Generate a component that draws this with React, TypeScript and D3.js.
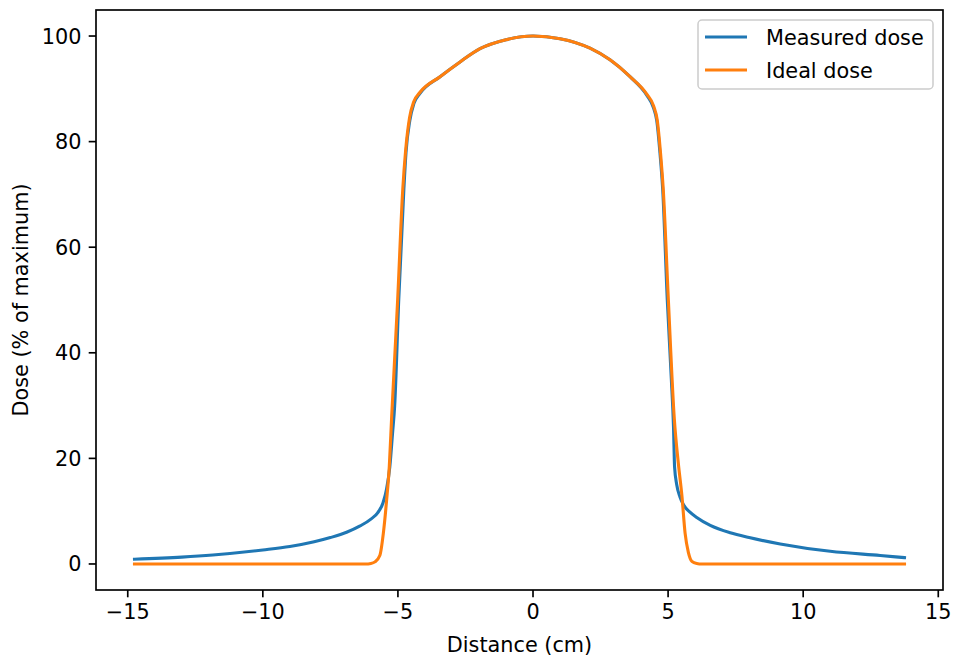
import React, { useEffect, useRef } from 'react';
import * as d3 from 'd3';

// measured profile
const measuredX = [
  -14.75, -13, -11.85, -10, -9, -8.1, -7.5, -6.9, -6.4, -6.0, -5.75, -5.55, -5.42, -5.3, -5.2,
  -5.12, -4.97, -4.78, -4.7, -4.56, -4.41, -4.19, -3.44, -2.7, -1.96, -1.0, 0, 1.0, 2.11, 2.85,
  3.59, 4.21, 4.46, 4.58, 4.7, 4.8, 4.97, 5.12, 5.2, 5.24, 5.32, 5.44, 5.57, 5.81, 6.06, 6.56,
  7.3, 8.0, 9.15, 11.0, 12.85, 13.75,
];
const measuredDose = [
  0.9, 1.3, 1.7, 2.65, 3.3, 4.2, 5.0, 6.0, 7.2, 8.5, 9.7, 11.6, 14.2, 18.4, 24.7,
  30, 50, 71, 78, 84, 87.2, 89.1, 92.3, 95.1, 97.6, 99.3, 100, 99.5, 97.7, 95.5,
  92.3, 88.8, 86.4, 84, 77.8, 71, 50, 35, 26, 18.4, 15, 12.7, 11.2, 9.8, 8.8, 7.3,
  5.9, 5.0, 3.8, 2.4, 1.6, 1.2,
];

// ideal profile
const idealX = [
  -14.75, -6.2, -6.0, -5.85, -5.67, -5.54, -5.42, -5.32, -5.23, -5.01, -4.82, -4.72, -4.57,
  -4.41, -4.19, -3.44, -2.7, -1.96, -1, 0, 1, 2.11, 2.85, 3.59, 4.21, 4.46, 4.6, 4.72, 4.82,
  5.01, 5.23, 5.38, 5.51, 5.63, 5.75, 5.88, 6.06, 6.25, 13.75,
];
const idealDose = [
  0, 0, 0.1, 0.4, 1.6, 5.8, 12, 18.4, 28, 50, 71, 78, 84.5,
  87.6, 89.3, 92.3, 95.1, 97.6, 99.3, 100, 99.5, 97.7, 95.5, 92.3, 89, 86.8, 84, 77.8, 71,
  50, 27.5, 19, 13, 5.8, 2.2, 0.5, 0.1, 0, 0,
];

const xTicks = [-15, -10, -5, 0, 5, 10, 15];
const yTicks = [0, 20, 40, 60, 80, 100];

const seriesNames = ['Measured dose', 'Ideal dose'];
const seriesColors = ['#1f77b4', '#ff7f0e'];

export default function App() {
  const chartRef = useRef<SVGSVGElement | null>(null);

  useEffect(() => {
    document.body.style.margin = '0';
    if (!chartRef.current) return;
    const root = d3.select(chartRef.current);
    root.selectAll('*').remove();

    const W = 953, H = 658;
    const margin = { top: 10, right: 10, bottom: 68, left: 96 };
    const width = W - margin.left - margin.right;
    const height = H - margin.top - margin.bottom;
    const font = 'DejaVu Sans, sans-serif';
    const fs = 20.8;

    const svg = root.append('g').attr('transform', `translate(${margin.left},${margin.top})`);

    // 5% padding like matplotlib
    const xPad = (13.75 + 14.75) * 0.05;
    const x = d3.scaleLinear().domain([-14.75 - xPad, 13.75 + xPad]).range([0, width]);
    const y = d3.scaleLinear().domain([-4.93, 104.93]).range([height, 0]);

    const line = d3.line<[number, number]>()
      .curve(d3.curveMonotoneX)
      .x(d => x(d[0]))
      .y(d => y(d[1]));

    const series = [
      d3.zip(measuredX, measuredDose) as [number, number][],
      d3.zip(idealX, idealDose) as [number, number][],
    ];

    series.forEach((pts, i) => {
      svg.append('path')
        .datum(pts)
        .attr('fill', 'none')
        .attr('stroke', seriesColors[i])
        .attr('stroke-width', 3.1)
        .attr('stroke-linejoin', 'round')
        .attr('stroke-linecap', 'square')
        .attr('d', line);
    });

    // frame
    svg.append('rect')
      .attr('width', width).attr('height', height)
      .attr('fill', 'none').attr('stroke', '#000').attr('stroke-width', 1.67);

    // x ticks
    const xt = svg.append('g').attr('transform', `translate(0,${height})`);
    xTicks.forEach(t => {
      xt.append('line').attr('x1', x(t)).attr('x2', x(t)).attr('y1', 0).attr('y2', 7.3)
        .attr('stroke', '#000').attr('stroke-width', 1.67);
      xt.append('text').attr('x', x(t)).attr('y', 29)
        .attr('text-anchor', 'middle').style('font-family', font).style('font-size', `${fs}px`)
        .text(t < 0 ? `\u2212${-t}` : `${t}`);
    });

    // y ticks
    yTicks.forEach(t => {
      svg.append('line').attr('x1', -7.3).attr('x2', 0).attr('y1', y(t)).attr('y2', y(t))
        .attr('stroke', '#000').attr('stroke-width', 1.67);
      svg.append('text').attr('x', -14.6).attr('y', y(t) + 7.5)
        .attr('text-anchor', 'end').style('font-family', font).style('font-size', `${fs}px`)
        .text(t);
    });

    // axis labels
    svg.append('text')
      .attr('x', width / 2).attr('y', height + 62)
      .attr('text-anchor', 'middle').style('font-family', font).style('font-size', `${fs}px`)
      .text('Distance (cm)');
    svg.append('text')
      .attr('transform', `translate(${28 - margin.left},${height / 2}) rotate(-90)`)
      .attr('text-anchor', 'middle').style('font-family', font).style('font-size', `${fs}px`)
      .text('Dose (% of maximum)');

    // legend
    const lg = svg.append('g').attr('transform', `translate(${698 - margin.left},${20 - margin.top})`);
    lg.append('rect').attr('width', 235).attr('height', 69).attr('rx', 4)
      .attr('fill', 'rgba(255,255,255,0.8)').attr('stroke', '#cccccc').attr('stroke-width', 1.5);
    seriesNames.forEach((name, i) => {
      const cy = 17 + i * 33;
      lg.append('line').attr('x1', 7).attr('x2', 49).attr('y1', cy).attr('y2', cy)
        .attr('stroke', seriesColors[i]).attr('stroke-width', 3.1);
      lg.append('text').attr('x', 68).attr('y', cy + 7.5)
        .style('font-family', font).style('font-size', `${fs}px`).text(name);
    });
  }, []);

  return <svg ref={chartRef} width={953} height={658} style={{ display: 'block', background: '#fff' }} />;
}
